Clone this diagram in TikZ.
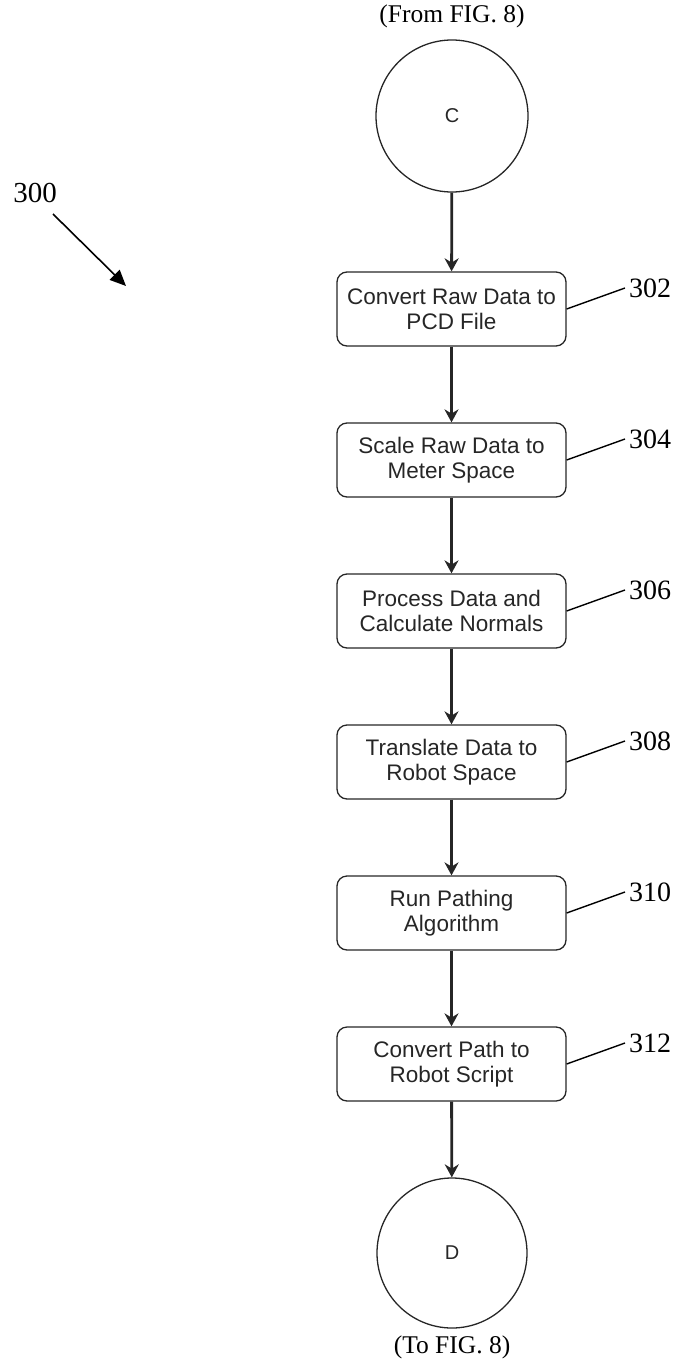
\documentclass[tikz,border=0pt]{standalone}
\usepackage{fontspec}
\setmainfont{Liberation Serif}
\newfontfamily\boxfont{Liberation Sans}
\usetikzlibrary{arrows.meta}
\begin{document}
\begin{tikzpicture}[x=1pt,y=-1pt,
  stepbox/.style={draw=black!85,line width=1.3pt,rounded corners=10pt,minimum width=229pt,minimum height=74pt,inner sep=0pt,align=center,font=\boxfont\fontsize{22.5}{25}\selectfont,text=black!85},
  conn/.style={draw=black!85,line width=2.8pt,-{Stealth[length=13pt,width=14pt]}},
  circ/.style={draw=black!85,line width=1.3pt,circle,minimum size=152pt,inner sep=0pt,font=\boxfont\fontsize{20}{22}\selectfont,text=black!85},
  lead/.style={draw=black,line width=1.4pt},
  reflabel/.style={anchor=west,inner sep=0pt,font=\fontsize{28}{30}\selectfont},
  figlabel/.style={inner sep=0pt,font=\fontsize{25.5}{28}\selectfont}]
\useasboundingbox (0,0) rectangle (679,1359);
\node[figlabel] (from) at (452,16) {(From FIG. 8)};
\node[circ] (c) at (452,116) {C};
\node[stepbox] (b1) at (451.5,309) {Convert Raw Data to\\PCD File};
\node[stepbox] (b2) at (451.5,460) {Scale Raw Data to\\Meter Space};
\node[stepbox] (b3) at (451.5,611) {Process Data and\\Calculate Normals};
\node[stepbox] (b4) at (451.5,762) {Translate Data to\\Robot Space};
\node[stepbox] (b5) at (451.5,913) {Run Pathing\\Algorithm};
\node[stepbox] (b6) at (451.5,1064) {Convert Path to\\Robot Script};
\node[circ,minimum size=150pt] (d) at (452,1253) {D};
\node[figlabel] (to) at (452,1347) {(To FIG. 8)};
\draw[conn] (c) -- (b1);
\draw[conn] (b1) -- (b2);
\draw[conn] (b2) -- (b3);
\draw[conn] (b3) -- (b4);
\draw[conn] (b4) -- (b5);
\draw[conn] (b5) -- (b6);
\draw[conn] (b6) -- (d);
\foreach \i/\n/\t in {1/302/288,2/304/439,3/306/590,4/308/741,5/310/892,6/312/1043}{
  \coordinate (e\i) at (625,\t);
  \node[reflabel] (l\i) at (629,\t) {\n};
  \draw[lead] (b\i.east) -- (e\i);
}
\node[inner sep=0pt,font=\fontsize{29}{30}\selectfont] (n300) at (35,193) {300};
\coordinate (t300) at (126,286);
\coordinate (s300) at (53,214);
\draw[line width=1.6pt,-{Triangle[length=16pt,width=14pt]}] (s300) -- (t300);
\end{tikzpicture}
\end{document}
